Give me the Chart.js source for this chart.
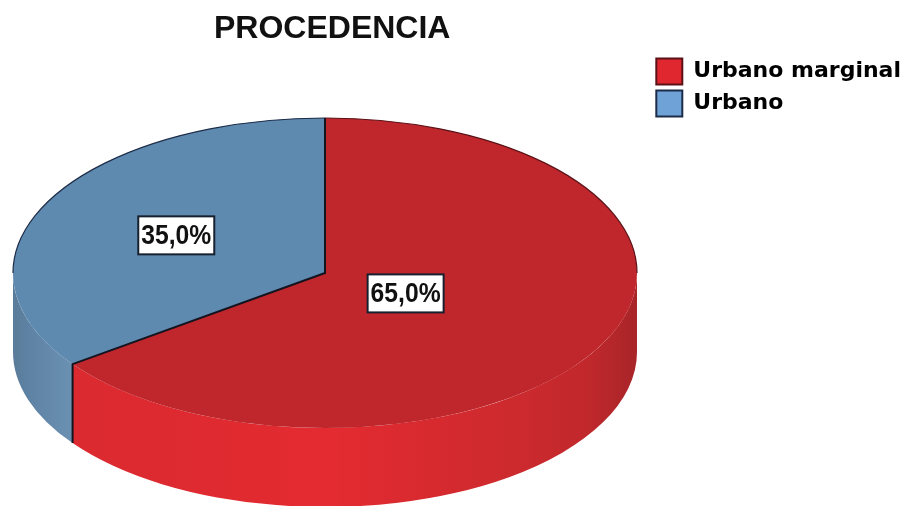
<!DOCTYPE html>
<html>
<head>
<meta charset="utf-8">
<style>
  html, body { margin: 0; padding: 0; background: #fff; }
  #cont { width: 905px; height: 506px; }
</style>
<script src="https://cdn.jsdelivr.net/npm/chart.js@4"></script>
</head>
<body>
<div id="cont"><canvas id="grafico"></canvas></div>
<script>
// datos
const categorias = ["Urbano marginal", "Urbano"];
const valores = [65.0, 35.0];
const etiquetas = ["65,0%", "35,0%"];
const coloresTapa = ["#c0272d", "#5f8ab0"];
const coloresLeyenda = ["#e0272f", "#6fa3d8"];
const bordesTapa = ["#5a1216", "#1c2c48"];

// geometria del pastel en 3D
const cx = 325, cy = 273, radio = 312, aplaste = 155 / 312, fondo = 79;
const distEtiqueta = [0.29, 0.535];

function recorte(a, b, min, max) {
    return [Math.max(a, min), Math.min(b, max)];
}

const pastel3d = {
    id: "pastel3d",
    beforeDatasetsDraw(chart) {
        const ctx = chart.ctx;
        const arcos = chart.getDatasetMeta(0).data;

        // pared lateral, solo la mitad de abajo
        const gradRojo = ctx.createLinearGradient(cx - radio, 0, cx + radio, 0);
        gradRojo.addColorStop(0, "#d92a30");
        gradRojo.addColorStop(0.3, "#de2a30");
        gradRojo.addColorStop(0.5, "#e42b31");
        gradRojo.addColorStop(0.68, "#d62a2f");
        gradRojo.addColorStop(0.8, "#cd2a2e");
        gradRojo.addColorStop(0.92, "#c1282c");
        gradRojo.addColorStop(1, "#a82528");
        const gradAzul = ctx.createLinearGradient(cx - radio, 0, 72, 0);
        gradAzul.addColorStop(0, "#5a7c9a");
        gradAzul.addColorStop(0.35, "#5f84a6");
        gradAzul.addColorStop(1, "#6a90b2");
        const rellenos = [gradRojo, gradAzul];

        arcos.forEach(function (arco, i) {
            const [a, b] = recorte(arco.startAngle, arco.endAngle, 0, Math.PI);
            if (b <= a) return;
            ctx.beginPath();
            ctx.ellipse(cx, cy, radio, radio * aplaste, 0, a, b);
            ctx.ellipse(cx, cy + fondo, radio, radio * aplaste, 0, b, a, true);
            ctx.closePath();
            ctx.fillStyle = rellenos[i];
            ctx.fill();
        });

        // la tapa se dibuja con el arco de Chart.js, achatada
        ctx.save();
        ctx.translate(cx, cy);
        ctx.scale(1, aplaste);
        ctx.translate(-arcos[0].x, -arcos[0].y);
    },
    afterDatasetsDraw(chart) {
        const ctx = chart.ctx;
        ctx.restore();
        const arcos = chart.getDatasetMeta(0).data;

        // borde de arriba
        arcos.forEach(function (arco, i) {
            [[-Math.PI, 0], [Math.PI, 2 * Math.PI]].forEach(function (r) {
                const [a, b] = recorte(arco.startAngle, arco.endAngle, r[0], r[1]);
                if (b <= a) return;
                ctx.beginPath();
                ctx.ellipse(cx, cy, radio, radio * aplaste, 0, a, b);
                ctx.strokeStyle = bordesTapa[i];
                ctx.lineWidth = 1.2;
                ctx.stroke();
            });
        });

        // lineas entre sectores
        const corte = arcos[0].endAngle;
        const xc = cx + radio * Math.cos(corte);
        const yc = cy + radio * aplaste * Math.sin(corte);
        ctx.beginPath();
        ctx.moveTo(cx, cy - radio * aplaste);
        ctx.lineTo(cx, cy);
        ctx.lineTo(xc, yc);
        ctx.lineTo(xc, yc + fondo);
        ctx.strokeStyle = "#14141f";
        ctx.lineWidth = 2;
        ctx.lineJoin = "miter";
        ctx.stroke();

        // etiquetas con caja
        ctx.font = "bold 28px 'Liberation Sans'";
        ctx.textAlign = "center";
        ctx.textBaseline = "middle";
        arcos.forEach(function (arco, i) {
            const medio = (arco.startAngle + arco.endAngle) / 2;
            const x = cx + distEtiqueta[i] * radio * Math.cos(medio);
            const y = cy + distEtiqueta[i] * radio * aplaste * Math.sin(medio);
            ctx.fillStyle = "#fff";
            ctx.fillRect(x - 38, y - 19, 76, 38);
            ctx.strokeStyle = "#16202e";
            ctx.lineWidth = 2;
            ctx.strokeRect(x - 38, y - 19, 76, 38);
            ctx.fillStyle = "#111";
            ctx.fillText(etiquetas[i], x, y + 1, 70);
        });
    }
};

new Chart(document.getElementById("grafico"), {
    type: "pie",
    data: {
        labels: categorias,
        datasets: [{
            data: valores,
            backgroundColor: coloresTapa,
            borderWidth: 0,
            radius: radio,
            clip: false
        }]
    },
    options: {
        responsive: true,
        maintainAspectRatio: false,
        animation: false,
        layout: { padding: { left: 214, right: -6 } },
        plugins: {
            tooltip: { enabled: false },
            title: {
                display: true,
                text: "PROCEDENCIA",
                align: "start",
                color: "#111",
                font: { family: "'Liberation Sans'", size: 32, weight: "bold" },
                padding: { top: 10, bottom: 4 }
            },
            legend: {
                position: "right",
                align: "start",
                fullSize: false,
                labels: {
                    boxWidth: 26,
                    boxHeight: 26,
                    padding: 6,
                    color: "#111",
                    font: { family: "'DejaVu Sans'", size: 22, weight: "bold" },
                    generateLabels() {
                        return categorias.map(function (c, i) {
                            return {
                                text: c,
                                fillStyle: coloresLeyenda[i],
                                strokeStyle: bordesTapa[i],
                                lineWidth: 2,
                                index: i
                            };
                        });
                    }
                }
            }
        }
    },
    plugins: [pastel3d]
});
</script>
</body>
</html>
